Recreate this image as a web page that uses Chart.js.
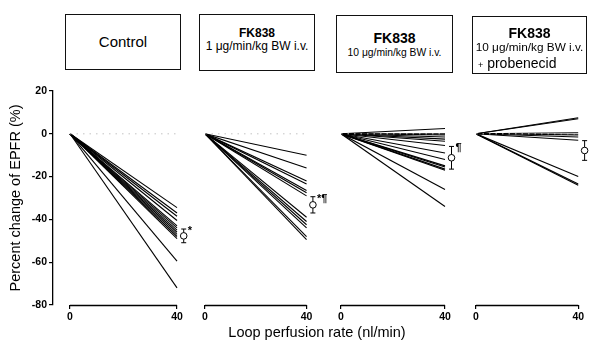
<!DOCTYPE html>
<html>
<head>
<meta charset="utf-8">
<script src="https://cdn.jsdelivr.net/npm/chart.js@4.4.1/dist/chart.umd.min.js"></script>
<style>
  body { margin: 0; background: #fff; font-family: "Liberation Sans", Arial, sans-serif; color: #000; }
  #wrap { position: relative; width: 592px; height: 340px; overflow: hidden; }
  canvas { position: absolute; top: 0; }
  .box { position: absolute; border: 1.5px solid #111; box-sizing: border-box; background: #fff; }
  .t { position: absolute; left: 0; right: 0; text-align: center; white-space: nowrap; line-height: 1; }
  .big { font-size: 14px; font-weight: bold; }
  .small { font-size: 10.3px; }
  #xtitle { position: absolute; left: 167px; width: 300px; top: 325px; text-align: center; font-size: 14.5px; line-height: 1; }
</style>
</head>
<body>
<div id="wrap">
  <canvas id="p1" width="200" height="340" style="left:0px"></canvas>
  <canvas id="p2" width="136" height="340" style="left:195px"></canvas>
  <canvas id="p3" width="134" height="340" style="left:331px"></canvas>
  <canvas id="p4" width="130" height="340" style="left:466px"></canvas>

  <div class="box" style="left:65px;top:14px;width:116px;height:56px">
    <div class="t" style="top:19px;font-size:15px">Control</div>
  </div>
  <div class="box" style="left:199px;top:14px;width:116px;height:57px">
    <div class="t" style="top:12px;font-size:12px;font-weight:bold">FK838</div>
    <div class="t" style="top:25px;font-size:12px">1 μg/min/kg BW i.v.</div>
  </div>
  <div class="box" style="left:336px;top:15px;width:117px;height:58px">
    <div class="t big" style="top:15px">FK838</div>
    <div class="t small" style="top:32px">10 μg/min/kg BW i.v.</div>
  </div>
  <div class="box" style="left:472px;top:16px;width:115px;height:58px">
    <div class="t big" style="top:9px">FK838</div>
    <div class="t" style="top:25px;font-size:11.8px">10 μg/min/kg BW i.v.</div>
    <div class="t" style="top:39px;text-align:left;left:5px;font-size:14px"><span style="font-size:9px">+</span> probenecid</div>
  </div>
  <div id="xtitle">Loop perfusion rate (nl/min)</div>
</div>
<script>
    // loop perfusion rates (x) and percent change at each rate, one line per nephron
    var rates = [0, 40];
    var controlEnd = [-34.5, -37, -38.5, -40.5, -43, -44, -45, -46, -47, -48, -49, -59.5, -72];
    var fk1End = [-10, -16, -22, -23.5, -26.5, -27.5, -29, -39, -41, -42.5, -44, -48, -49.5];
    var fk10End = [2.5, 0, -0.5, -1.5, -2.5, -3.5, -5.5, -9, -12, -15, -15.5, -16.5, -17, -26, -34];
    var probEnd = [7.5, 7, 0.5, -0.5, -1.5, -3, -20, -23.5, -24];

    // mean +/- SE markers drawn to the right of each panel
    var meanX = 42.5;
    var meanVal = [-47.7, -33.2, -11.2, -7.8];
    var meanErr = [3.2, 3.8, 5.3, 4.6];
    var sigMark = ['*', '*¶', '¶', ''];

    var yTicks = [20, 0, -20, -40, -60, -80];

    var FONT = '"Liberation Sans", Arial, sans-serif';

    var panelExtras = {
        id: 'panelExtras',
        beforeDatasetsDraw: function (chart, args, o) {
            var x = chart.scales.x, y = chart.scales.y, ctx = chart.ctx;
            ctx.save();
            ctx.strokeStyle = '#000';
            ctx.lineWidth = 1;
            var px = x.getPixelForValue(meanX);
            var top = y.getPixelForValue(o.mean + o.err);
            var bot = y.getPixelForValue(o.mean - o.err);
            ctx.beginPath();
            ctx.moveTo(px, top); ctx.lineTo(px, bot);
            ctx.moveTo(px - 2.5, top); ctx.lineTo(px + 2.5, top);
            ctx.moveTo(px - 2.5, bot); ctx.lineTo(px + 2.5, bot);
            ctx.stroke();
            ctx.restore();
        },
        afterDatasetsDraw: function (chart, args, o) {
            var x = chart.scales.x, y = chart.scales.y, ctx = chart.ctx;
            ctx.save();
            // x axis only spans 0..40
            ctx.strokeStyle = '#000';
            ctx.lineWidth = 1.6;
            ctx.beginPath();
            ctx.moveTo(x.getPixelForValue(rates[0]), y.bottom + 0.5);
            ctx.lineTo(x.getPixelForValue(rates[1]), y.bottom + 0.5);
            ctx.stroke();
            if (o.sig) {
                ctx.fillStyle = '#000';
                ctx.font = 'bold 11px ' + FONT;
                ctx.textBaseline = 'middle';
                ctx.fillText(o.sig, x.getPixelForValue(meanX) + 4, y.getPixelForValue(o.mean + o.err) + 2);
            }
            ctx.restore();
        }
    };

    function makePanel(id, ends, idx, opt) {
        var datasets = [{
            data: [{ x: rates[0], y: 0 }, { x: rates[1], y: 0 }],
            borderColor: '#c4c4c4',
            borderWidth: 1,
            borderDash: [1.5, 5],
            pointRadius: 0
        }];
        ends.forEach(function (v) {
            datasets.push({
                data: [{ x: rates[0], y: 0 }, { x: rates[1], y: v }],
                borderColor: '#000',
                borderWidth: 1.1,
                pointRadius: 0
            });
        });
        datasets.push({
            data: [{ x: meanX, y: meanVal[idx] }],
            showLine: false,
            pointRadius: 3.3,
            pointBackgroundColor: '#fff',
            pointBorderColor: '#000',
            pointBorderWidth: 1,
            clip: false
        });

        new Chart(document.getElementById(id), {
            type: 'line',
            data: { datasets: datasets },
            plugins: [panelExtras],
            options: {
                responsive: false,
                animation: false,
                events: [],
                layout: { padding: { left: opt.padLeft, right: opt.padRight, top: 91, bottom: 0 } },
                plugins: {
                    legend: { display: false },
                    tooltip: { enabled: false },
                    panelExtras: { mean: meanVal[idx], err: meanErr[idx], sig: sigMark[idx] }
                },
                scales: {
                    x: {
                        type: 'linear',
                        min: opt.xMin,
                        max: 45,
                        afterBuildTicks: function (axis) { axis.ticks = rates.map(function (r) { return { value: r }; }); },
                        afterFit: function (axis) { axis.height = 35; },
                        border: { display: false },
                        grid: { drawOnChartArea: false, tickLength: 4, tickColor: '#000', lineWidth: 1.2 },
                        ticks: { color: '#000', padding: 2, font: { family: FONT, size: 10.5, weight: 'bold' }, maxRotation: 0 }
                    },
                    y: {
                        display: opt.showY,
                        min: -80,
                        max: 20,
                        afterBuildTicks: function (axis) { axis.ticks = yTicks.map(function (t) { return { value: t }; }); },
                        afterFit: function (axis) { if (opt.showY) axis.width = 53; else axis.width = 0; },
                        border: { display: true, color: '#000', width: 1.3 },
                        grid: { drawOnChartArea: false, tickLength: 4, tickColor: '#000', lineWidth: 1.2 },
                        ticks: { color: '#000', padding: 2, font: { family: FONT, size: 10.5, weight: 'bold' } },
                        title: {
                            display: true,
                            text: 'Percent change of EPFR (%)',
                            color: '#000',
                            font: { family: FONT, size: 14.5 },
                            padding: { top: 7, bottom: 0 }
                        }
                    }
                }
            }
        });
    }

    makePanel('p1', controlEnd, 0, { showY: true, xMin: -6.36, padLeft: 0, padRight: 9.6 });
    makePanel('p2', fk1End, 1, { showY: false, xMin: 0, padLeft: 10, padRight: 11.75 });
    makePanel('p3', fk10End, 2, { showY: false, xMin: 0, padLeft: 10, padRight: 7 });
    makePanel('p4', probEnd, 3, { showY: false, xMin: 0, padLeft: 10, padRight: 1.9 });
</script>
</body>
</html>
